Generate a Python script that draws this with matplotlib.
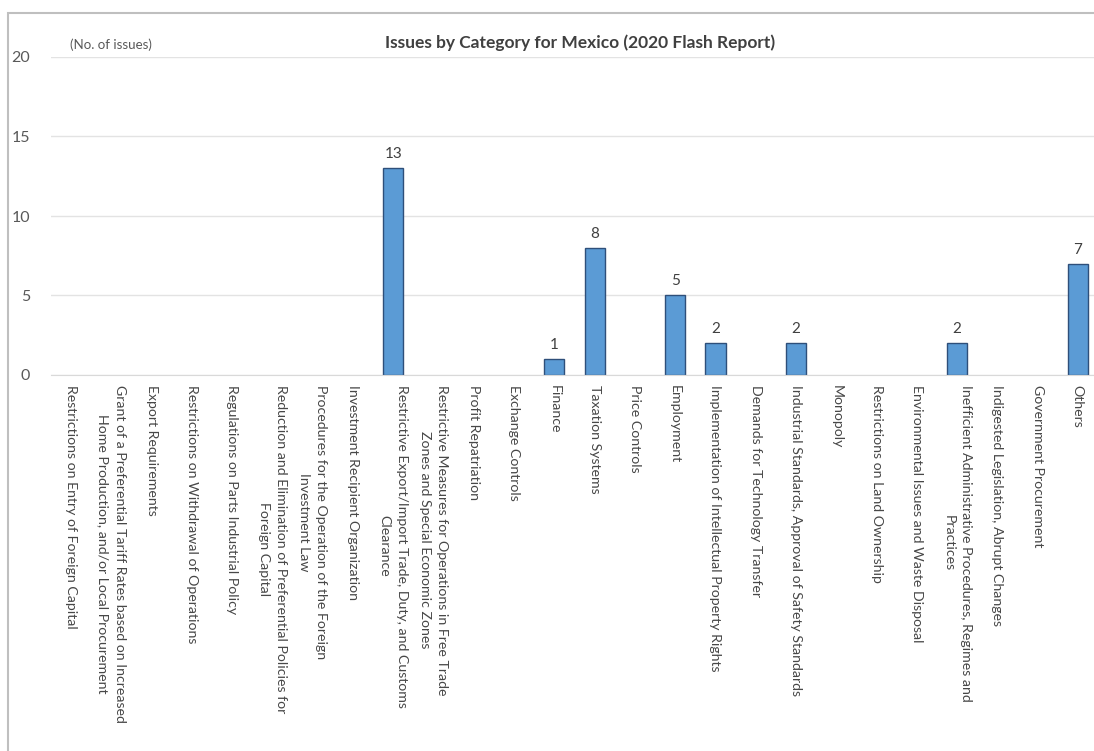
import matplotlib
matplotlib.use("Agg")
import matplotlib.pyplot as plt
from matplotlib.patches import Rectangle

categories = [
    "Restrictions on Entry of Foreign Capital",
    "Grant of a Preferential Tariff Rates based on Increased\nHome Production, and/or Local Procurement",
    "Export Requirements",
    "Restrictions on Withdrawal of Operations",
    "Regulations on Parts Industrial Policy",
    "Reduction and Elimination of Preferential Policies for\nForeign Capital",
    "Procedures for the Operation of the Foreign\nInvestment Law",
    "Investment Recipient Organization",
    "Restrictive Export/Import Trade, Duty, and Customs\nClearance",
    "Restrictive Measures for Operations in Free Trade\nZones and Special Economic Zones",
    "Profit Repatriation",
    "Exchange Controls",
    "Finance",
    "Taxation Systems",
    "Price Controls",
    "Employment",
    "Implementation of Intellectual Property Rights",
    "Demands for Technology Transfer",
    "Industrial Standards, Approval of Safety Standards",
    "Monopoly",
    "Restrictions on Land Ownership",
    "Environmental Issues and Waste Disposal",
    "Inefficient Administrative Procedures, Regimes and\nPractices",
    "Indigested Legislation, Abrupt Changes",
    "Government Procurement",
    "Others",
]
values = [0, 0, 0, 0, 0, 0, 0, 0, 13, 0, 0, 0, 1, 8, 0, 5, 2, 0, 2, 0, 0, 0, 2, 0, 0, 7]
yticks = [0, 5, 10, 15, 20]
title = "Issues by Category for Mexico (2020 Flash Report)"
unit_label = "(No. of issues)"

plt.rcParams['font.family'] = ['Lato', 'DejaVu Sans']

W, H = 1094, 751
fig = plt.figure(figsize=(W / 100, H / 100), dpi=100)

# figure border
fig.patches.append(Rectangle((8 / W, -0.05), 1.1, (H - 13) / H + 0.05,
                             transform=fig.transFigure, fill=False,
                             edgecolor='#BFBFBF', linewidth=1.5))

left, right = 51, 1098
top, bottom = 57, 375
ax = fig.add_axes([left / W, 1 - bottom / H, (right - left) / W, (bottom - top) / H])

x = list(range(len(categories)))
lws = [1.0 if v > 0 else 0.0 for v in values]
ax.bar(x, values, width=0.5, color='#5B9BD5', edgecolor='#2E4F7A', linewidth=lws, zorder=3)
ax.set_xlim(-0.5, len(categories) - 0.5)
ax.set_ylim(0, 20)
ax.set_yticks(yticks)
ax.yaxis.grid(True, color='#E3E3E3', linewidth=1.0, zorder=0)
ax.set_axisbelow(True)
for s in ['top', 'right', 'left']:
    ax.spines[s].set_visible(False)
ax.spines['bottom'].set_color('#D9D9D9')
ax.spines['bottom'].set_zorder(4)
ax.tick_params(axis='both', length=0)
ax.tick_params(axis='y', labelsize=11.5, labelcolor='#595959', pad=15)

ax.set_xticks(x)
ax.set_xticklabels(categories, rotation=-90, ha='center', va='top',
                   multialignment='center', fontsize=10.2, color='#474747',
                   linespacing=1.5)
ax.tick_params(axis='x', pad=7)

for xi, v in zip(x, values):
    if v > 0:
        ax.text(xi, v + 0.45, str(v), ha='center', va='bottom', fontsize=11, color='#404040')

fig.text(580 / W, 1 - 43 / H, title, ha='center', va='center', fontsize=12.5,
         fontweight='bold', color='#404040')
fig.text(70 / W, 1 - 45 / H, unit_label, ha='left', va='center', fontsize=9.6, color='#595959')

fig.savefig('out.png', dpi=100)
